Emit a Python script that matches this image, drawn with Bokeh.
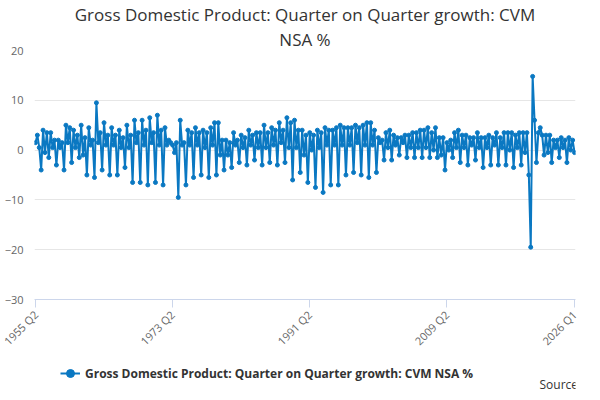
from bokeh.plotting import figure
from bokeh.layouts import column
from bokeh.models import Legend, LegendItem, Title, Label, FixedTicker
from bokeh.embed import file_html
from bokeh.resources import INLINE

values = [
 1.5, 3.0, 0.5,
 -4.0, 4.0, -0.5, 3.5,
 -1.5, 3.5, 0.5, 2.0,
 -3.0, 2.0, 0.5, 1.5,
 -4.0, 5.0, 1.5, 4.5,
 -2.5, 4.0, 0.5, 3.0,
 -1.5, 5.0, -1.0, 2.5,
 -5.0, 4.5, 1.0, 2.0,
 -5.5, 9.5, 1.5, 3.5,
 -4.0, 5.5, 1.0, 3.0,
 -5.0, 4.5, 1.0, 3.0,
 -5.0, 4.0, 0.5, 2.5,
 -3.5, 5.0, 0.5, 3.0,
 -6.5, 6.0, 1.5, 3.5,
 -6.5, 6.0, 1.0, 4.0,
 -7.0, 6.5, 1.5, 3.5,
 -6.5, 7.0, 1.0, 4.0,
 -7.0, 4.5, 1.0, 2.0,
 1.5, 1.0, -0.5, 1.5,
 -9.5, 6.0, 1.0, 1.5,
 -7.0, 4.0, 1.0, 3.5,
 -5.5, 4.5, 1.0, 3.5,
 -5.0, 4.0, 0.5, 3.5,
 -5.5, 4.5, 1.0, 5.5,
 -5.0, 5.5, -1.0, 2.0,
 -4.0, 2.0, -1.0, 1.5,
 -3.5, 3.5, 1.0, 2.0,
 -2.5, 3.0, 0.5, 2.5,
 -3.0, 4.0, 1.0, 3.0,
 -2.0, 3.5, 0.5, 3.5,
 -3.0, 5.0, 0.5, 3.5,
 -2.5, 4.5, 1.0, 4.0,
 -3.0, 5.5, 1.5, 4.0,
 -2.5, 6.5, 0.5, 5.5,
 -6.0, 6.0, 0.5, 4.0,
 -4.5, 4.0, -1.0, 3.0,
 -6.5, 3.5, 0.0, 3.0,
 -7.5, 4.0, 0.5, 3.5,
 -8.5, 4.5, 1.0, 4.0,
 -7.0, 4.0, 1.0, 4.5,
 -7.0, 5.0, 1.0, 4.5,
 -5.0, 4.5, 1.0, 4.5,
 -4.5, 5.0, 1.5, 4.5,
 -5.0, 5.0, 1.0, 5.5,
 -5.5, 5.5, 1.0, 4.0,
 -4.5, 2.5, 1.5, 2.0,
 -2.0, 3.5, 0.5, 4.0,
 -2.0, 3.0, 1.0, 2.5,
 -1.0, 2.5, 1.5, 3.0,
 -1.5, 3.0, 0.5, 3.5,
 -1.5, 3.5, 0.5, 4.0,
 -1.5, 4.0, 0.5, 4.5,
 -1.5, 3.5, 0.0, 4.5,
 -1.5, 2.5, -1.0, 2.5,
 -4.0, 1.5, 0.0, 2.0,
 -1.5, 3.5, 0.5, 4.0,
 -2.5, 3.0, 0.5, 3.0,
 -3.0, 2.5, 1.0, 2.5,
 -2.0, 3.5, 0.5, 2.5,
 -3.5, 2.5, 0.5, 3.0,
 -3.0, 2.5, 1.0, 3.5,
 -3.0, 2.5, 0.5, 3.5,
 -3.0, 3.5, 0.0, 3.5,
 -3.5, 3.0, 0.5, 3.5,
 -3.0, 3.5, -0.5, 3.5,
 -5.0, -19.5, 14.8, 6.0,
 -2.5, 3.5, 4.5, 3.0,
 -1.0, 3.0, -0.5, 3.0,
 -2.5, 2.0, 0.5, 2.0,
 -1.5, 2.5, 0.5, 2.0,
 -2.5, 2.5, 0.0, 2.0,
 -0.5,
]

labels = []
y, q = 1955, 2
for _ in values:
    labels.append(f"{y} Q{q}")
    q += 1
    if q > 4:
        q, y = 1, y + 1

tick_labels = ["1955 Q2", "1973 Q2", "1991 Q2", "2009 Q2", "2026 Q1"]
series_name = "Gross Domestic Product: Quarter on Quarter growth: CVM NSA %"
title_lines = ["Gross Domestic Product: Quarter on Quarter growth: CVM", "NSA %"]

xs = list(range(len(values)))
FONT = "Open Sans"
COL = "#0a78c2"

p = figure(width=584, height=356, output_backend="svg", toolbar_location=None,
           x_range=(-0.5, len(values) - 0.5), y_range=(-30, 20),
           min_border_left=34, min_border_right=9, min_border_top=16)
p.title.text = title_lines[0]
sub = Title(text=title_lines[1])
p.add_layout(sub, "above")
for t in [p.title, sub]:
    t.align = "center"
    t.text_font = FONT
    t.text_font_size = "17px"
    t.text_font_style = "normal"
    t.text_color = "#333333"
    t.standoff = 0
p.outline_line_color = None

p.line(xs, values, line_color=COL, line_width=2)
p.scatter(xs, values, size=4, color=COL)

p.yaxis.ticker = FixedTicker(ticks=[-30, -20, -10, 0, 10, 20])
p.yaxis.axis_line_color = None
p.yaxis.major_tick_line_color = None
p.yaxis.minor_tick_line_color = None
p.yaxis.major_label_text_font = FONT
p.yaxis.major_label_text_color = "#666666"
p.yaxis.major_label_text_font_size = "11px"

tick_pos = [labels.index(t) for t in tick_labels]
p.xaxis.ticker = FixedTicker(ticks=tick_pos)
p.xaxis.major_label_overrides = {i: labels[i] for i in tick_pos}
p.xaxis.major_label_orientation = 0.785
p.xaxis.major_label_text_font = FONT
p.xaxis.major_label_text_color = "#666666"
p.xaxis.major_label_text_font_size = "11px"
p.xaxis.axis_line_color = "#ccd6eb"
p.xaxis.major_tick_line_color = "#ccd6eb"
p.xaxis.minor_tick_line_color = None
p.xaxis.major_tick_out = 8
p.xaxis.major_tick_in = 0
p.xgrid.grid_line_color = None
p.ygrid.grid_line_color = "#e6e6e6"

# footer figure: legend and source
f = figure(width=584, height=36, output_backend="svg", toolbar_location=None,
           x_range=(0, 1), y_range=(0, 1), min_border=0)
f.axis.visible = False
f.grid.visible = False
f.outline_line_color = None
l1 = f.line([5, 6], [5, 5], line_color=COL, line_width=2)
l2 = f.scatter([5], [5], size=4, color=COL)
legend = Legend(items=[LegendItem(label=series_name, renderers=[l1, l2])],
                orientation="horizontal", location=(26, 9),
                label_text_font=FONT, label_text_font_size="12px",
                label_text_font_style="bold", label_text_color="#333333",
                border_line_color=None, background_fill_alpha=0,
                glyph_width=20, padding=2, margin=0)
f.add_layout(legend, "center")
f.add_layout(Label(text="Source:", x=505, y=0, x_units="screen", y_units="screen",
                   text_baseline="bottom", text_font=FONT,
                   text_font_size="12px", text_color="#333333"))

open("out.html", "w").write(file_html(column(p, f, spacing=0), INLINE))
